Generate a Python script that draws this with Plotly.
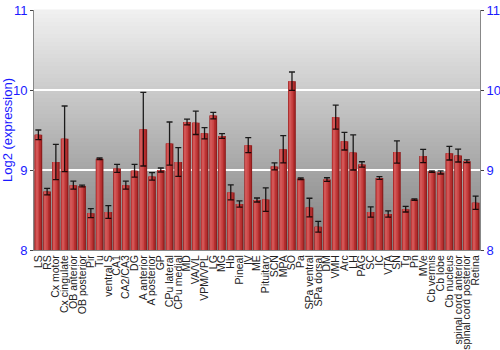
import plotly.graph_objects as go

regions = ["LS", "RS", "Cx motor", "Cx cingulate", "OB anterior", "OB posterior", "Pir", "Tu",
           "ventral S", "CA1", "CA2/CA3", "DG", "A anterior", "A posterior", "GP", "CPu lateral",
           "CPu medial", "MD", "VA/VL", "VPM/VPL", "LG", "MG", "Hb", "Pineal", "IV", "ME",
           "Pituitary", "SCN", "MPA", "SO", "Pa", "SPa ventral", "SPa dorsal", "DM", "VMH",
           "Arc", "LH", "PAG", "SC", "IC", "VTA", "SN", "Tg", "Pn", "MVe", "Cb vermis",
           "Cb lobe", "Cb nucleus", "spinal cord anterior", "spinal cord posterior", "Retina"]

expression = [9.44, 8.73, 9.10, 9.39, 8.81, 8.80, 8.46, 9.14,
              8.475, 9.02, 8.81, 8.99, 9.51, 8.92, 9.00, 9.33,
              9.10, 9.60, 9.59, 9.46, 9.68, 9.425, 8.72, 8.575, 9.31, 8.625,
              8.63, 9.045, 9.26, 10.11, 8.89, 8.53, 8.29, 8.88, 9.66,
              9.36, 9.22, 9.07, 8.475, 8.90, 8.45, 9.225, 8.51, 8.63, 9.175, 8.98,
              8.97, 9.21, 9.18, 9.11, 8.59]

error = [0.06, 0.04, 0.22, 0.41, 0.05, 0.01, 0.056, 0.01,
         0.08, 0.05, 0.05, 0.08, 0.46, 0.046, 0.025, 0.27,
         0.18, 0.035, 0.146, 0.07, 0.04, 0.03, 0.094, 0.04, 0.094, 0.025,
         0.146, 0.044, 0.17, 0.115, 0.01, 0.117, 0.067, 0.023, 0.15,
         0.11, 0.22, 0.033, 0.065, 0.017, 0.04, 0.14, 0.035, 0.01, 0.083, 0.01,
         0.02, 0.085, 0.08, 0.017, 0.083]

y_ticks = [8, 9, 10, 11]
y_range = [8, 11]

blue = "#1a1aff"
fig = go.Figure()

# shaded bar layers (overlay) to mimic cylindrical gradient
layers = [
    (0.88, -0.44, "#8e1e1e"),
    (0.70, -0.41, "#b52e2e"),
    (0.44, -0.35, "#c94444"),
    (0.18, -0.27, "#d25656"),
]
for w, off, col in layers:
    fig.add_trace(go.Bar(x=regions, y=expression, width=w, offset=off,
                         marker=dict(color=col, line=dict(width=0)),
                         showlegend=False, hoverinfo="skip"))

fig.add_trace(go.Scatter(x=regions, y=expression, mode="markers",
                         marker=dict(size=1, color="rgba(0,0,0,0)"),
                         error_y=dict(type="data", array=error, visible=True,
                                      color="rgba(0,0,0,0.85)", thickness=1.3, width=3),
                         showlegend=False, hoverinfo="skip"))

fig.add_trace(go.Scatter(x=[regions[0]], y=[8.5], yaxis="y2", mode="markers",
                         marker=dict(size=1, color="rgba(0,0,0,0)"),
                         showlegend=False, hoverinfo="skip"))

# gradient background strips
n = 60
shapes = []
top = (240, 240, 240)
bot = (128, 128, 128)
for i in range(n):
    t = i / (n - 1)
    c = tuple(int(round(bot[k] + (top[k] - bot[k]) * t)) for k in range(3))
    shapes.append(dict(type="rect", xref="paper", yref="paper",
                       x0=0, x1=1, y0=i / n, y1=(i + 1) / n + 0.002,
                       fillcolor="rgb(%d,%d,%d)" % c, line=dict(width=0), layer="below"))

fig.update_layout(
    width=500, height=350,
    margin=dict(l=34, r=20, t=10, b=100),
    paper_bgcolor="white", plot_bgcolor="#b0b0b0",
    barmode="overlay", bargap=0.1,
    shapes=shapes,
    font=dict(family="Liberation Sans, Arial, sans-serif"),
    xaxis=dict(type="category", tickangle=-90, tickfont=dict(size=10.5, color="#222"),
               tickmode="array", tickvals=regions, ticktext=regions,
               showgrid=False, ticks="", showline=True, linecolor="#888",
               range=[-0.5, len(regions) - 0.5], automargin=False),
    yaxis=dict(range=y_range, tickvals=y_ticks, tickfont=dict(size=13, color=blue),
               title=dict(text="Log2 (expression)", font=dict(size=13, color=blue), standoff=2),
               showgrid=True, gridcolor="white", gridwidth=1.5,
               showline=True, linecolor="#888", ticks="outside", ticklen=3, tickcolor="#444",
               zeroline=False, automargin=False),
    yaxis2=dict(range=y_range, tickvals=y_ticks, overlaying="y", side="right",
                tickfont=dict(size=13, color=blue), showgrid=False,
                showline=True, linecolor="#888", ticks="outside", ticklen=3, tickcolor="#444",
                zeroline=False, automargin=False),
)

fig.write_html("out.html")
